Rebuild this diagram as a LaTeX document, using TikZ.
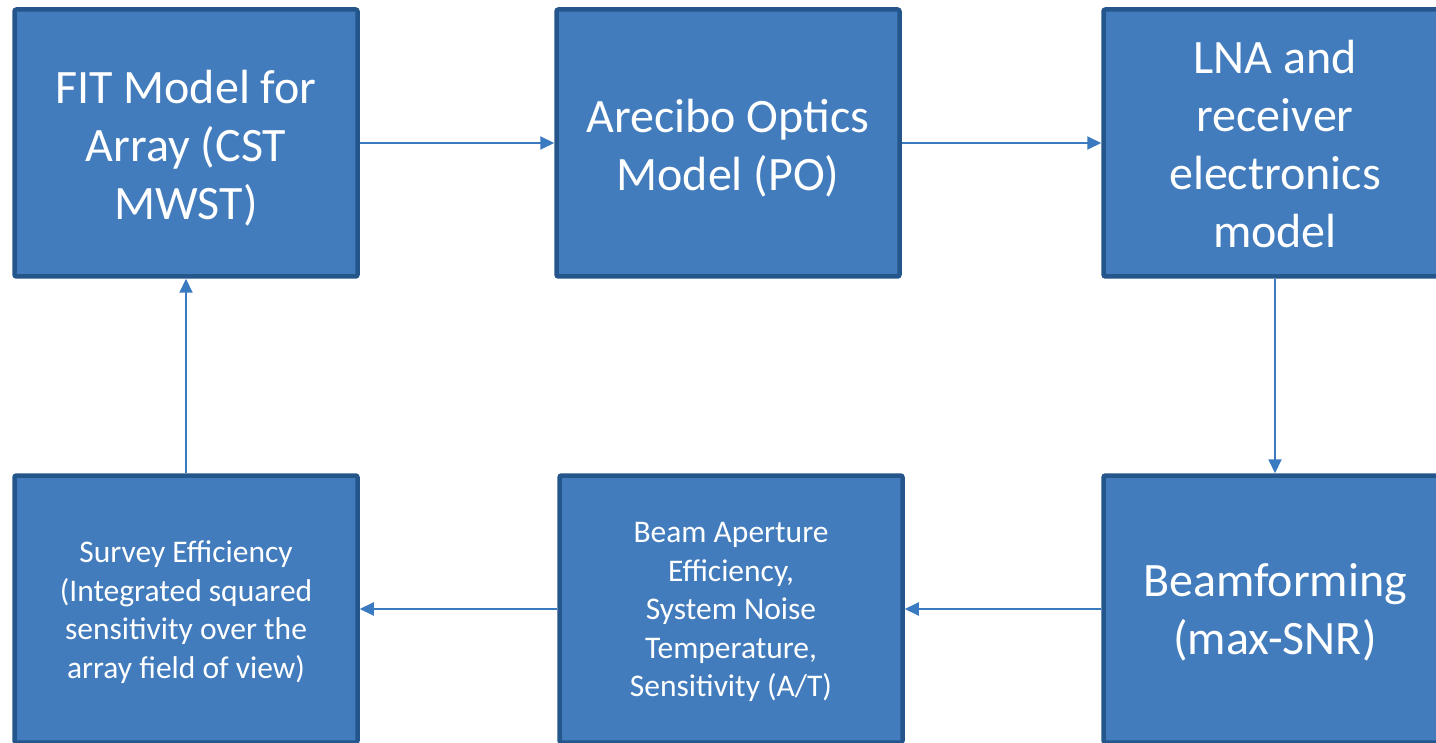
\documentclass[tikz,border=0pt]{standalone}
\usepackage{fontspec}
\setmainfont{Carlito}
\usetikzlibrary{arrows.meta}
\definecolor{boxfill}{RGB}{66,124,189}
\definecolor{boxline}{RGB}{36,86,140}
\definecolor{arrowcol}{RGB}{58,122,192}
\tikzset{
  blockbox/.style={draw=boxline, fill=boxfill, line width=4.5pt, rounded corners=2pt,
    minimum width=343pt, minimum height=267pt, inner sep=0pt},
  boxtext/.style={text=white, align=center, inner sep=0pt},
  bigtext/.style={boxtext, font=\fontsize{48}{58}\selectfont},
  smalltext/.style={boxtext, font=\fontsize{31.5}{38.5}\selectfont},
  flow/.style={draw=arrowcol, line width=2pt, -{Triangle[length=14pt,width=13pt]}}
}
\begin{document}
\begin{tikzpicture}[x=1pt,y=-1pt]
\useasboundingbox (0,0) rectangle (1436,743);
\clip (0,0) rectangle (1436,743);
\node[blockbox] (fit) at (186,143) {};
\node[blockbox] (aro) at (728,143) {};
\node[blockbox] (lna) at (1275,143) {};
\node[blockbox] (bf) at (1275,609) {};
\node[blockbox] (bae) at (731,609) {};
\node[blockbox] (se) at (186,609) {};
\node[bigtext] (fitt) at ([yshift=-5pt]fit.center) {FIT Model for\\Array (CST\\MWST)};
\node[bigtext] (arot) at ([yshift=-5pt]aro.center) {Arecibo Optics\\Model (PO)};
\node[bigtext] (lnat) at ([yshift=-1pt]lna.center) {LNA and\\receiver\\electronics\\model};
\node[bigtext] (bft) at ([yshift=-3pt]bf.center) {Beamforming\\(max-SNR)};
\node[smalltext] (baet) at ([yshift=-3pt]bae.center) {Beam Aperture\\Efficiency,\\System Noise\\Temperature,\\Sensitivity (A/T)};
\node[smalltext] (set) at ([yshift=-3pt]se.center) {Survey Efficiency\\(Integrated squared\\sensitivity over the\\array field of view)};
\draw[flow] (fit) -- (aro);
\draw[flow] (aro) -- (lna);
\draw[flow] (lna) -- (bf);
\draw[flow] (bf) -- (bae);
\draw[flow] (bae) -- (se);
\draw[flow] (se) -- (fit);
\end{tikzpicture}
\end{document}
